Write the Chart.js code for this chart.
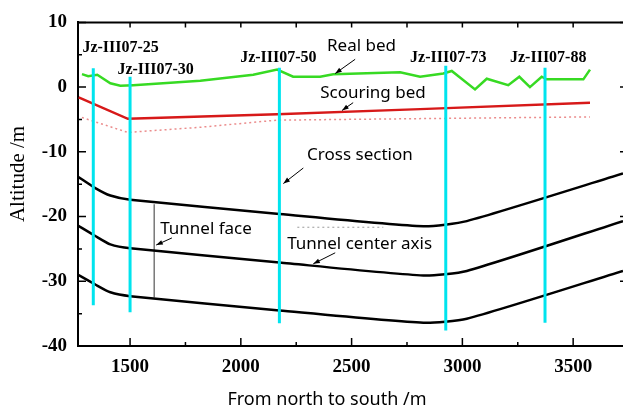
<!DOCTYPE html>
<html>
<head>
<meta charset="utf-8">
<script src="https://cdn.jsdelivr.net/npm/chart.js@4"></script>
<style>
  body { margin: 0; background: #fff; }
</style>
</head>
<body>
<canvas id="profileChart" width="623" height="412"></canvas>
<script>
// river bed surveyed along the line
const realBedX = [1283, 1311, 1352, 1411, 1456, 1514, 1817, 2056, 2164, 2236, 2358, 2417, 2719, 2809, 2914, 2952, 3057, 3110, 3207, 3257, 3305, 3358, 3380, 3546, 3576];
const realBedY = [2.0, 1.7, 1.9, 0.6, 0.2, 0.3, 1.0, 1.9, 2.7, 1.6, 1.6, 2.0, 2.3, 1.6, 2.1, 2.5, -0.35, 1.3, 0.3, 1.6, 0.0, 1.6, 1.2, 1.2, 2.7];

// bed after scouring
const scourBedX = [1268, 1490, 2164, 2809, 3576];
const scourBedY = [-1.6, -4.9, -4.2, -3.4, -2.4];

// dotted line under the scouring bed
const scourLowX = [1283, 1490, 1817, 2164, 2719, 3576];
const scourLowY = [-4.7, -7.0, -6.2, -5.1, -4.9, -4.6];

// tunnel: crown, center axis, invert
const tunnelX = [1265, 1343, 1411, 1501, 2174, 2824, 3020, 3725];
const tunnelTopY = [-13.85, -15.6, -16.75, -17.4, -19.6, -21.5, -20.7, -13.35];
const tunnelAxisY = [-21.4, -23.0, -24.3, -24.9, -27.1, -29.1, -28.4, -20.7];
const tunnelBottomY = [-29.0, -30.5, -31.7, -32.3, -34.5, -36.4, -35.8, -28.4];

// boreholes
const boreholeNames = ['Jz-III07-25', 'Jz-III07-30', 'Jz-III07-50', 'Jz-III07-73', 'Jz-III07-88'];
const boreholeX = [1334, 1500, 2174, 2925, 3373];
const boreholeTop = [2.9, 1.6, 3.0, 3.3, 3.0];
const boreholeBottom = [-33.7, -34.8, -36.5, -37.6, -36.4];

// tunnel face marker and the short dashed line near the axis
const faceX = 1609;
const faceTop = -18.1;
const faceBottom = -32.5;
const dashX = [2255, 2643];
const dashY = [-21.65, -21.65];

const xTicks = [1500, 2000, 2500, 3000, 3500];
const yTicks = [-40, -30, -20, -10, 0, 10];

const pts = (xs, ys) => xs.map((x, i) => ({ x: x, y: ys[i] }));

// name placement (left edge, middle of text) in axis units
const boreholeLabelAt = [[1285, 6.0], [1443, 2.7], [1997, 4.5], [2764, 4.5], [3215, 4.5]];

// callouts: text, text anchor, arrow start, arrow end
const callouts = [
  { text: 'Real bed', at: [2389, 6.3], from: [2516, 4.3], to: [2426, 2.1] },
  { text: 'Scouring bed', at: [2358, -0.9], from: [2507, -2.4], to: [2457, -3.6] },
  { text: 'Cross section', at: [2299, -10.5], from: [2282, -12.5], to: [2192, -14.9] },
  { text: 'Tunnel face', at: [1636, -21.9], from: [1689, -23.3], to: [1618, -24.4] },
  { text: 'Tunnel center axis', at: [2209, -24.25], from: [2426, -25.6], to: [2327, -27.3] }
];

const datasets = [];
boreholeX.forEach((bx, i) => {
  datasets.push({
    data: [{ x: bx, y: boreholeTop[i] }, { x: bx, y: boreholeBottom[i] }],
    borderColor: 'rgb(0, 228, 238)',
    borderWidth: 3
  });
});
datasets.push(
  { data: pts(realBedX, realBedY), borderColor: 'rgb(55, 218, 35)', borderWidth: 2.5 },
  { data: pts(scourBedX, scourBedY), borderColor: 'rgb(215, 25, 25)', borderWidth: 2.5 },
  { data: pts(scourLowX, scourLowY), borderColor: 'rgb(235, 140, 140)', borderWidth: 1.5, borderDash: [2, 3] },
  { data: pts(tunnelX, tunnelTopY), borderColor: '#000', borderWidth: 2.5, tension: 0.2 },
  { data: pts(tunnelX, tunnelAxisY), borderColor: '#000', borderWidth: 2.5, tension: 0.2 },
  { data: pts(tunnelX, tunnelBottomY), borderColor: '#000', borderWidth: 2.5, tension: 0.2 },
  { data: [{ x: faceX, y: faceTop }, { x: faceX, y: faceBottom }], borderColor: '#777', borderWidth: 1.5 },
  { data: pts(dashX, dashY), borderColor: '#999', borderWidth: 1, borderDash: [2, 3] }
);

function arrow(ctx, x1, y1, x2, y2) {
  const ang = Math.atan2(y2 - y1, x2 - x1);
  ctx.beginPath();
  ctx.moveTo(x1, y1);
  ctx.lineTo(x2, y2);
  ctx.stroke();
  ctx.beginPath();
  ctx.moveTo(x2, y2);
  ctx.lineTo(x2 - 7 * Math.cos(ang - 0.35), y2 - 7 * Math.sin(ang - 0.35));
  ctx.lineTo(x2 - 7 * Math.cos(ang + 0.35), y2 - 7 * Math.sin(ang + 0.35));
  ctx.closePath();
  ctx.fill();
}

const frameAndNotes = {
  id: 'frameAndNotes',
  afterDraw(chart) {
    const { ctx, chartArea: a, scales: { x, y } } = chart;
    ctx.save();
    ctx.strokeStyle = '#000';
    ctx.fillStyle = '#000';

    // top frame line
    ctx.lineWidth = 2;
    ctx.beginPath();
    ctx.moveTo(a.left, a.top);
    ctx.lineTo(a.right, a.top);
    ctx.stroke();

    // inward tick marks
    ctx.lineWidth = 1.5;
    ctx.beginPath();
    for (let v = 1500; v <= 3500; v += 250) {
      const px = x.getPixelForValue(v);
      const major = v % 500 === 0;
      ctx.moveTo(px, a.bottom);
      ctx.lineTo(px, a.bottom - (major ? 8 : 4));
      ctx.moveTo(px, a.top);
      ctx.lineTo(px, a.top + 5);
    }
    for (let v = -40; v <= 10; v += 5) {
      const py = y.getPixelForValue(v);
      const major = v % 10 === 0;
      ctx.moveTo(a.left, py);
      ctx.lineTo(a.left + (major ? 8 : 4), py);
      if (major) {
        ctx.moveTo(a.right, py);
        ctx.lineTo(a.right - 3, py);
      }
    }
    ctx.stroke();

    // axis titles
    ctx.textAlign = 'center';
    ctx.textBaseline = 'middle';
    ctx.font = '18px "Noto Sans"';
    ctx.fillText('From north to south /m', 327, 400);
    ctx.save();
    ctx.translate(18, 174);
    ctx.rotate(-Math.PI / 2);
    ctx.font = '21px "Liberation Serif"';
    ctx.fillText('Altitude /m', 0, 0);
    ctx.restore();

    // borehole names
    ctx.font = 'bold 16px "Liberation Serif"';
    ctx.textAlign = 'left';
    boreholeNames.forEach((name, i) => {
      const [lx, ly] = boreholeLabelAt[i];
      ctx.fillText(name, x.getPixelForValue(lx), y.getPixelForValue(ly));
    });

    // callouts with arrows
    ctx.font = '17px "Noto Sans"';
    ctx.lineWidth = 1;
    callouts.forEach(c => {
      ctx.fillText(c.text, x.getPixelForValue(c.at[0]), y.getPixelForValue(c.at[1]));
      arrow(ctx,
        x.getPixelForValue(c.from[0]), y.getPixelForValue(c.from[1]),
        x.getPixelForValue(c.to[0]), y.getPixelForValue(c.to[1]));
    });
    ctx.restore();
  }
};

new Chart(document.getElementById('profileChart'), {
  type: 'line',
  data: { datasets: datasets },
  options: {
    responsive: false,
    animation: false,
    devicePixelRatio: 1,
    layout: { padding: { top: 18, right: 0, left: 0, bottom: 0 } },
    elements: { point: { radius: 0 }, line: { tension: 0 } },
    plugins: { legend: { display: false }, tooltip: { enabled: false } },
    scales: {
      x: {
        type: 'linear',
        min: 1265,
        max: 3725,
        afterFit: s => { s.height = 66; },
        afterBuildTicks: s => { s.ticks = xTicks.map(v => ({ value: v })); },
        grid: { display: false, drawTicks: false },
        border: { display: true, color: '#000', width: 2 },
        ticks: {
          padding: 10,
          color: '#000',
          callback: v => String(v),
          font: { family: 'Liberation Serif', weight: 'bold', size: 19 }
        }
      },
      y: {
        min: -40,
        max: 10,
        afterFit: s => { s.width = 78; },
        afterBuildTicks: s => { s.ticks = yTicks.map(v => ({ value: v })); },
        grid: { display: false, drawTicks: false },
        border: { display: true, color: '#000', width: 2 },
        ticks: {
          padding: 11,
          color: '#000',
          callback: v => String(v),
          font: { family: 'Liberation Serif', weight: 'bold', size: 19 }
        }
      }
    }
  },
  plugins: [frameAndNotes]
});
</script>
</body>
</html>
